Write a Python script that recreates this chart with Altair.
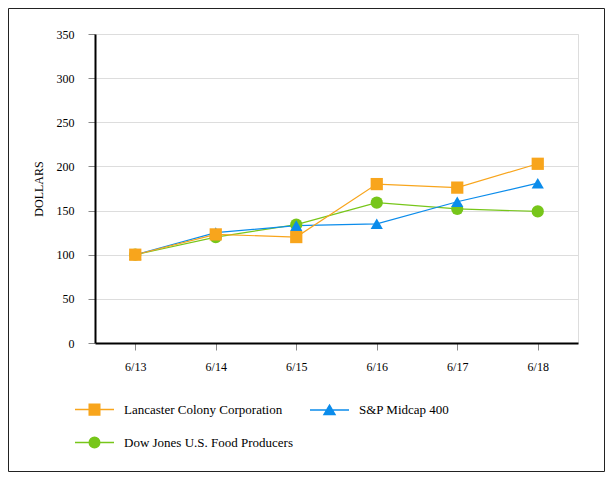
import altair as alt
import pandas as pd

periods = ["6/13", "6/14", "6/15", "6/16", "6/17", "6/18"]
series = ["Lancaster Colony Corporation", "S&P Midcap 400", "Dow Jones U.S. Food Producers"]
lancaster = [100, 123, 120, 180, 176, 203]
sp400 = [100, 125, 133, 135, 160, 181]
dowjones = [100, 120, 134, 159, 152, 149]
colors = ["#F8A51C", "#0B8CEB", "#77C61A"]
shapes = ["square", "triangle-up", "circle"]
legend_paths = [
    "M-1,0H1M-0.27,-0.27H0.27V0.27H-0.27Z",
    "M-1,0H1M0,-0.25L0.28,0.23H-0.28Z",
    "M-1,0H1M-0.27,0A0.27,0.27 0 1,0 0.27,0A0.27,0.27 0 1,0 -0.27,0Z",
]

rows = []
for name, vals in [(series[2], dowjones), (series[1], sp400), (series[0], lancaster)]:
    for p, v in zip(periods, vals):
        rows.append({"period": p, "value": v, "series": name})
df = pd.DataFrame(rows)

FONT = "Liberation Serif"

x_enc = alt.X(
    "period:N",
    sort=periods,
    scale=alt.Scale(type="point", padding=0.5),
    axis=alt.Axis(
        title=None, labelAngle=0, grid=False, tickSize=7, tickColor="#888888",
        domainColor="black", domainWidth=2, labelPadding=11,
        labelFont=FONT, labelFontSize=12, labelColor="black",
    ),
)
y_enc = alt.Y(
    "value:Q",
    scale=alt.Scale(domain=[0, 350], nice=False),
    axis=alt.Axis(
        values=list(range(0, 351, 50)), title="DOLLARS", titleFont=FONT,
        titleFontSize=12, titleFontWeight="normal", titleColor="black",
        titlePadding=11, labelFont=FONT, labelFontSize=12, labelColor="black",
        labelPadding=14, tickSize=7, tickColor="#888888", domainColor="black",
        domainWidth=2, gridColor="#dddddd", gridWidth=1,
    ),
)
# color scale listed in another order so its (disabled) legend is not merged with the real one
color_enc = alt.Color(
    "series:N",
    scale=alt.Scale(domain=series[::-1], range=colors[::-1]),
    legend=None,
)

base = alt.Chart(df).encode(x=x_enc, y=y_enc, color=color_enc)
lines = base.mark_line(strokeWidth=1.2)

# draw order: Dow Jones, S&P, Lancaster on top
point_layers = []
for idx in [2, 1, 0]:
    point_layers.append(
        base.transform_filter(alt.datum.series == series[idx]).mark_point(
            filled=True, size=150, opacity=1, shape=shapes[idx]
        )
    )

# legend entries fill column by column: Lancaster, Dow Jones | S&P
leg_order = [0, 2, 1]
leg_domain = [series[i] for i in leg_order]
leg_colors = [colors[i] for i in leg_order]
leg_paths = [legend_paths[i] for i in leg_order]

legend_layer = (
    alt.Chart(df)
    .mark_point(filled=False, size=1521, opacity=0)
    .encode(
        x=x_enc,
        y=y_enc,
        shape=alt.Shape(
            "series:N",
            scale=alt.Scale(domain=leg_domain, range=leg_paths),
            legend=alt.Legend(
                title=None, orient="none", legendX=-21, legendY=355, columns=2,
                columnPadding=14, rowPadding=4, padding=0, labelFont=FONT,
                labelFontSize=13, labelColor="black", labelOffset=9,
                labelLimit=400, symbolSize=1521, symbolStrokeWidth=1.5,
                symbolOpacity=1,
            ),
        ),
        stroke=alt.Stroke("series:N", scale=alt.Scale(domain=leg_domain, range=leg_colors)),
        fill=alt.Fill("series:N", scale=alt.Scale(domain=leg_domain, range=leg_colors)),
    )
)

frame = alt.Chart(alt.Data(values=[{"a": 1}])).mark_rect(
    fill="white", fillOpacity=0, stroke="#222222", strokeWidth=1
).encode(
    x=alt.value(-86.5), x2=alt.value(509.5), y=alt.value(-25.5), y2=alt.value(437.5)
)

chart = (
    alt.layer(frame, lines, *point_layers, legend_layer)
    .properties(
        width=483,
        height=309,
        autosize=alt.AutoSizeParams(type="none"),
        padding={"left": 87, "top": 26, "right": 27, "bottom": 129},
    )
    .configure_view(stroke=None)
    .configure(font=FONT)
)

chart.save("out.html", embed_options={"renderer": "svg", "actions": False})
